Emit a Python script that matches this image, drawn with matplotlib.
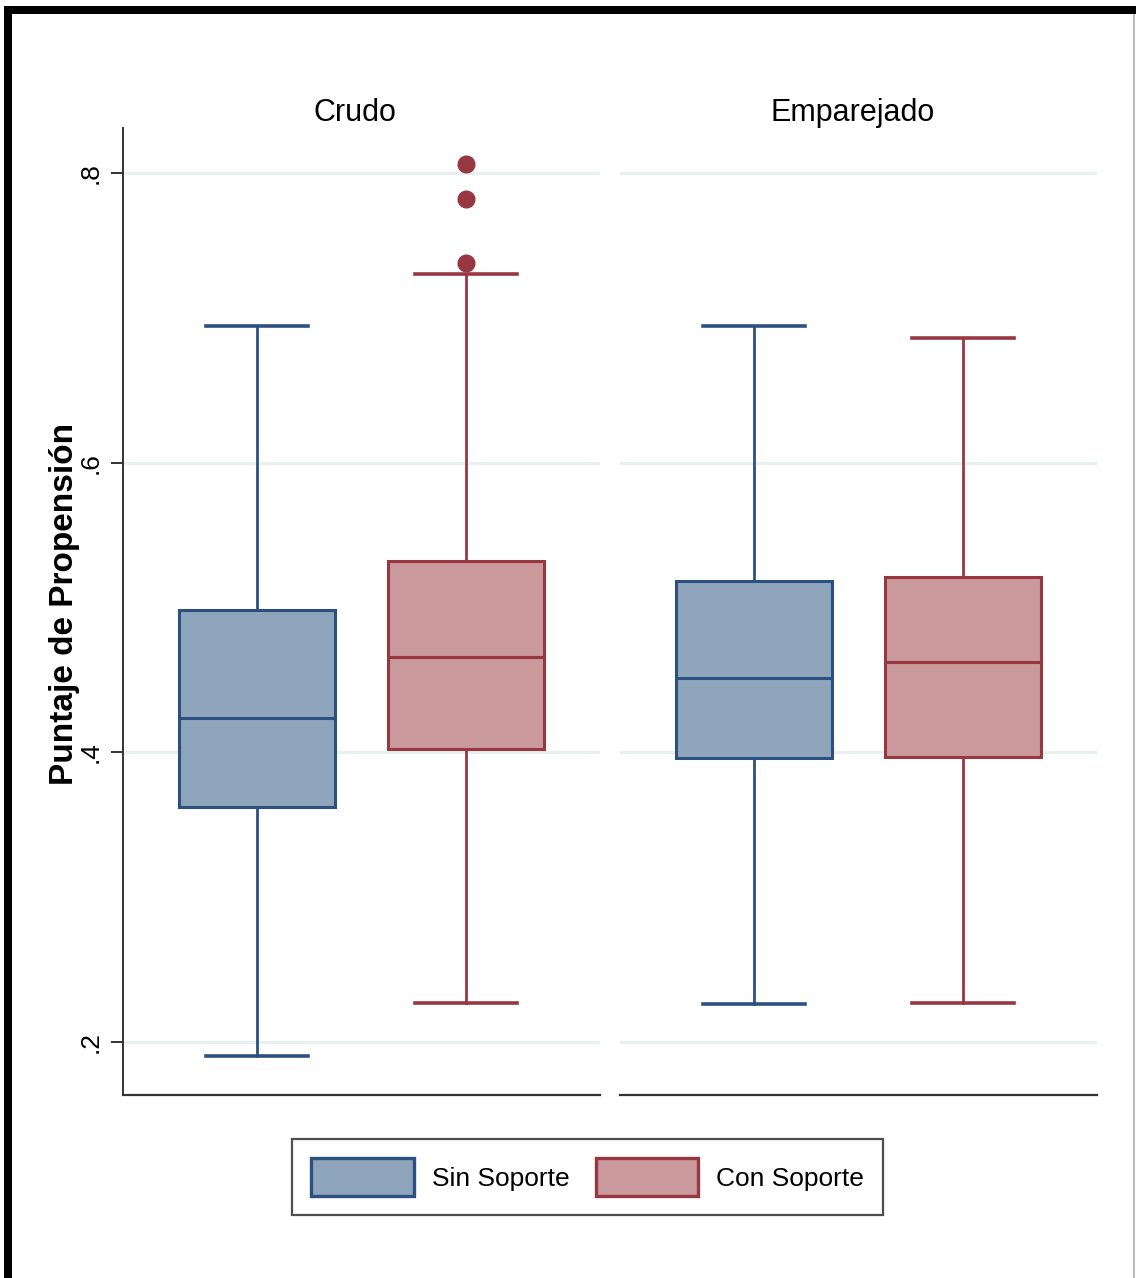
import matplotlib
matplotlib.use("Agg")
import matplotlib.pyplot as plt
from matplotlib.patches import Rectangle, Patch

# ── DATA ─────────────────────────────────────────────────────────────────────
panels = ["Crudo", "Emparejado"]
groups = ["Sin Soporte", "Con Soporte"]

# per panel: [Sin Soporte, Con Soporte]
whis_lo = [[0.190, 0.227], [0.226, 0.227]]
q1      = [[0.362, 0.402], [0.396, 0.397]]
median  = [[0.424, 0.466], [0.451, 0.462]]
q3      = [[0.498, 0.532], [0.518, 0.521]]
whis_hi = [[0.694, 0.730], [0.694, 0.686]]
fliers  = [[[], [0.806, 0.782, 0.738]], [[], []]]

yticks = [0.2, 0.4, 0.6, 0.8]
ytick_labels = [".2", ".4", ".6", ".8"]

# ── STYLE ────────────────────────────────────────────────────────────────────
fills = ["#8fa5bb", "#c9999c"]
edges = ["#2c5080", "#973742"]
grid_col = "#e8f0f2"
sans = ["Liberation Sans", "DejaVu Sans"]

fig = plt.figure(figsize=(11.36, 12.78), dpi=100)
fig.patch.set_facecolor("white")

ax_w = 477 / 1136
ax_b = (1278 - 1095) / 1278
ax_h = (1095 - 128) / 1278
lefts = [123 / 1136, 620 / 1136]

for p, name in enumerate(panels):
    ax = fig.add_axes([lefts[p], ax_b, ax_w, ax_h])
    for g in range(2):
        stats = {
            "med": median[p][g], "q1": q1[p][g], "q3": q3[p][g],
            "whislo": whis_lo[p][g], "whishi": whis_hi[p][g],
            "fliers": fliers[p][g],
        }
        ax.bxp([stats], positions=[g + 1], widths=0.742, patch_artist=True,
               showfliers=True, showcaps=True,
               boxprops=dict(facecolor=fills[g], edgecolor=edges[g], linewidth=2.2),
               medianprops=dict(color=edges[g], linewidth=2.2),
               whiskerprops=dict(color=edges[g], linewidth=2.0),
               capprops=dict(color=edges[g], linewidth=2.6),
               flierprops=dict(marker="o", markerfacecolor=edges[g],
                               markeredgecolor=edges[g], markersize=12),
               capwidths=0.49, zorder=3)

    ax.set_xlim(0.359, 2.641)
    ax.set_ylim(0.1634, 0.831)
    ax.set_xticks([])
    ax.set_yticks(yticks)
    ax.yaxis.grid(True, color=grid_col, linewidth=2.2, zorder=0)
    ax.set_axisbelow(True)
    for s in ["top", "right"]:
        ax.spines[s].set_visible(False)
    ax.spines["bottom"].set_color("#333333")
    ax.spines["bottom"].set_linewidth(1.6)
    ax.set_title(name, fontsize=22, family=sans, pad=5, x=0.487)

    if p == 0:
        ax.spines["left"].set_color("#333333")
        ax.spines["left"].set_linewidth(1.4)
        ax.set_yticklabels(ytick_labels, rotation=90, va="center",
                           fontsize=19, family=sans)
        ax.tick_params(axis="y", length=9, width=1.4, color="#333333", pad=6)
        ax.set_ylabel("Puntaje de Propensión", fontsize=24, fontweight="bold",
                      family=sans)
        ax.yaxis.set_label_coords(-0.09, 0.508)
    else:
        ax.spines["left"].set_visible(False)
        ax.tick_params(axis="y", length=0, labelleft=False)

# legend
handles = [Patch(facecolor=fills[g], edgecolor=edges[g], linewidth=2.4, label=groups[g])
           for g in range(2)]
leg = fig.legend(handles=handles, loc="center", bbox_to_anchor=(587.5 / 1136, 1 - 1177 / 1278),
                 ncol=2, frameon=True, fancybox=False, edgecolor="#222222",
                 prop={"family": sans, "size": 19}, handlelength=3.9, handleheight=1.8,
                 handletextpad=0.65, columnspacing=1.0, borderpad=0.75, borderaxespad=0)
leg.get_frame().set_linewidth(1.6)

# outer frame (thick black on left and top, thin grey on right)
fig.patches.append(Rectangle((4 / 1136, 0), 8 / 1136, 1 - 6 / 1278, transform=fig.transFigure,
                             facecolor="black", edgecolor="none", zorder=10))
fig.patches.append(Rectangle((4 / 1136, 1 - 14 / 1278), 1 - 4 / 1136, 8 / 1278,
                             transform=fig.transFigure, facecolor="black", edgecolor="none",
                             zorder=10))
fig.patches.append(Rectangle((1133 / 1136, 0), 2 / 1136, 1 - 14 / 1278, transform=fig.transFigure,
                             facecolor="#bbbbbb", edgecolor="none", zorder=10))

fig.savefig("out.png", dpi=100, facecolor="white")
